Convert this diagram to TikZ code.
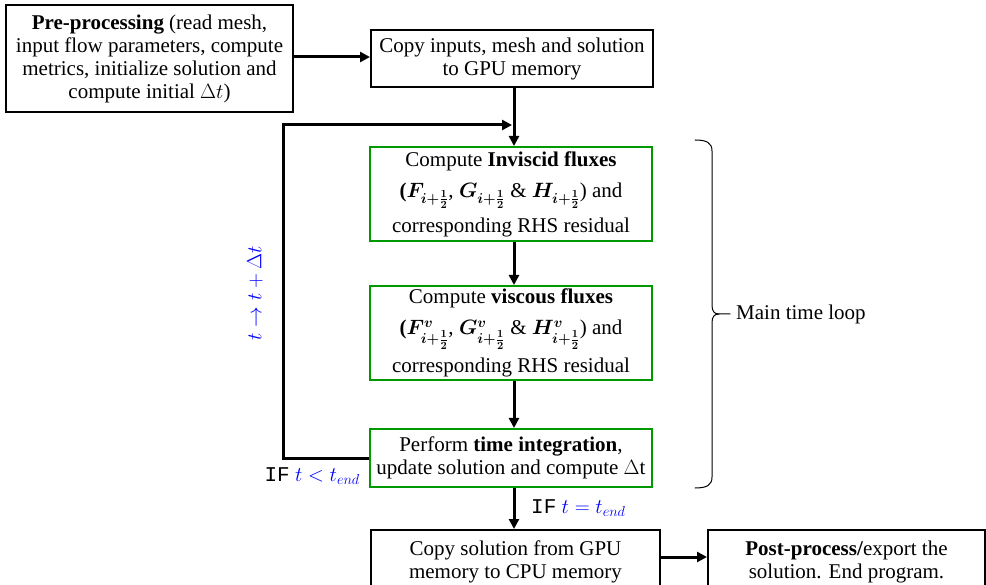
\documentclass[tikz,border=0pt]{standalone}
\usepackage{fontspec}
\setmainfont{Liberation Serif}
\setmonofont{Liberation Mono}
\usepackage{amsmath,bm}
\usetikzlibrary{arrows.meta}
\definecolor{boxgreen}{RGB}{0,153,0}
\definecolor{lblblue}{RGB}{0,0,255}
\newcommand{\halfidx}{\bm{i+\frac{1}{2}}}
\begin{document}
\begin{tikzpicture}[x=1pt,y=-1pt,
  font=\fontsize{21}{23}\selectfont,
  box/.style={draw=black, line width=2pt, align=center, inner sep=1pt},
  gbox/.style={box, draw=boxgreen},
  conn/.style={line width=3pt, -{Triangle[length=10pt,width=10pt]}},
  bar/.style={line width=3pt},
  lbl/.style={inner sep=0pt},
  bracestyle/.style={line width=1pt, line cap=round, line join=round}]
\useasboundingbox (0,0) rectangle (986,585);
\clip (0,0) rectangle (986,585);

\node[box, minimum width=287, minimum height=107] (pre) at (149.5,58.5)
  {\textbf{Pre-processing} (read mesh,\\ input flow parameters, compute\\ metrics, initialize solution and\\ compute initial $\Delta t$)};
\node[box, minimum width=282, minimum height=57] (copyin) at (512,58.5)
  {Copy inputs, mesh and solution\\ to GPU memory};
\node[gbox, minimum width=282, minimum height=94] (inv) at (511,194)
  {Compute \textbf{Inviscid fluxes}\\[8pt] \textbf{(}$\bm{F}_{\halfidx}$, $\bm{G}_{\halfidx}$ \& $\bm{H}_{\halfidx}$) and\\[8pt] corresponding RHS residual};
\node[gbox, minimum width=282, minimum height=94] (visc) at (511,333)
  {Compute \textbf{viscous fluxes}\\[8pt] \textbf{(}$\bm{F}^{\bm{v}}_{\halfidx}$, $\bm{G}^{\bm{v}}_{\halfidx}$ \& $\bm{H}^{\bm{v}}_{\halfidx}$) and\\[8pt] corresponding RHS residual};
\node[gbox, minimum width=282, minimum height=58] (tint) at (511,458)
  {Perform \textbf{time integration},\\ update solution and compute $\Delta$t};
\node[box, minimum width=289, minimum height=64] (copysol) at (515.5,562)
  {Copy solution from GPU\\ memory to CPU memory};
\node[box, minimum width=277, minimum height=64] (post) at (846.5,562)
  {\textbf{Post-process/}export the\\ solution. End program.};

\coordinate (ax) at (514,0);
\coordinate (lp) at (283,125);
\coordinate (jn) at (512,125);

\draw[conn] (pre.east |- 0,57) -- (copyin.west |- 0,57);
\draw[bar] (copyin.south -| ax) -- (ax |- lp);
\draw[conn] (ax |- lp) -- (inv.north -| ax);
\draw[conn] (inv.south -| ax) -- (visc.north -| ax);
\draw[conn] (visc.south -| ax) -- (tint.north -| ax);
\draw[conn] (tint.west) -| (lp) -- (jn);
\draw[conn] (tint.south -| ax) -- (copysol.north -| ax);
\draw[conn] (copysol.east |- 0,557) -- (post.west |- 0,557);

\node[lbl, text=lblblue, rotate=90] (step) at (255,293) {$t \rightarrow t+\Delta t$};
\node[lbl, anchor=east] (iflt) at (360,476) {\texttt{IF} \textcolor{lblblue}{$t<t_{end}$}};
\node[lbl, anchor=west] (ifeq) at (531,508) {\texttt{IF} \textcolor{lblblue}{$t=t_{end}$}};

% right brace
\draw[bracestyle] (695,140) .. controls (707,140) and (712,143) .. (712,151)
  -- (712,305) .. controls (712,311) and (714,314) .. (719,314) -- (730,314);
\draw[bracestyle] (695,488) .. controls (707,488) and (712,485) .. (712,477)
  -- (712,323) .. controls (712,317) and (714,314) .. (719,314);
\node[lbl, anchor=west] (loop) at (736,314) {Main time loop};
\end{tikzpicture}
\end{document}
